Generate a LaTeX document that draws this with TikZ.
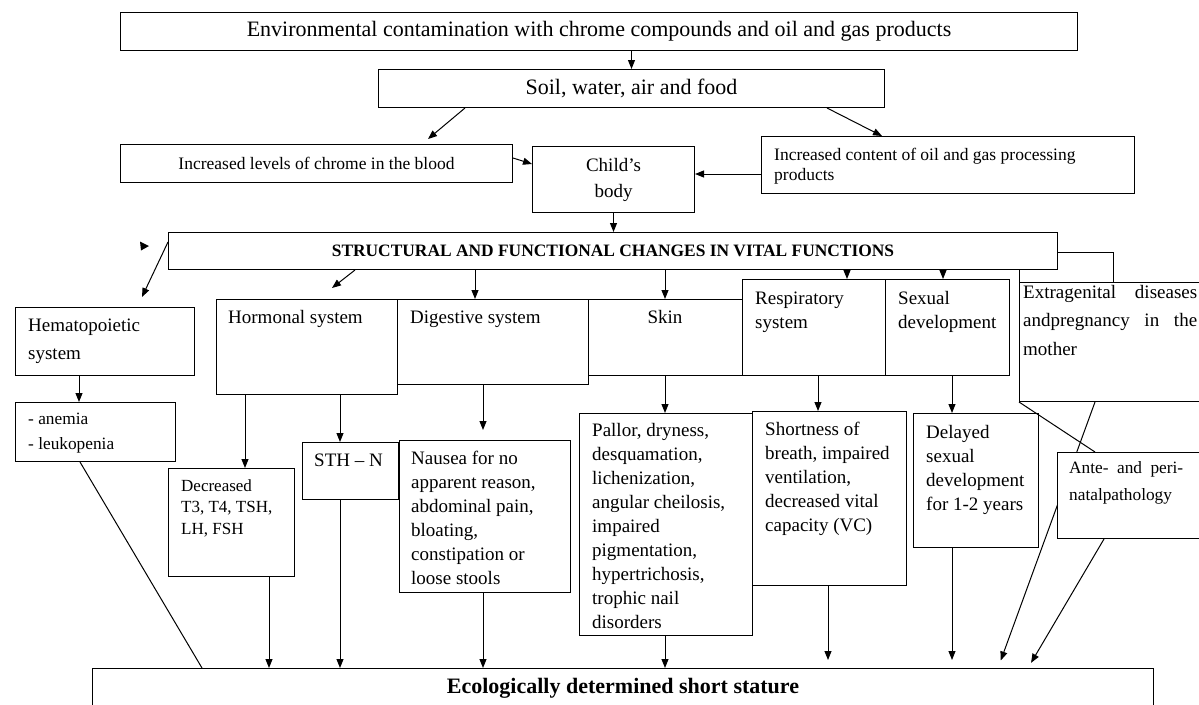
\documentclass[tikz,border=0pt]{standalone}
\usepackage{fontspec}
\setmainfont{Liberation Serif}
\usetikzlibrary{arrows.meta}
\tikzset{
  box/.style={draw, line width=1pt, fill=white, inner sep=0pt, anchor=north west},
  lbl/.style={inner sep=0pt, anchor=north west, align=left},
  arr/.style={line width=1pt, -{Triangle[length=9pt,width=7pt]}},
  ln/.style={line width=1pt},
}
\begin{document}
\begin{tikzpicture}[x=1pt, y=-1pt]
  \useasboundingbox (0,0) rectangle (1199,704);
  \clip (0,0) rectangle (1199,704);
  % ── sources ──
  \node[box, minimum width=957, minimum height=38, font=\fontsize{22}{26}\selectfont] (env) at (120,12)
    {Environmental contamination with chrome compounds and oil and gas products};
  \node[box, minimum width=506, minimum height=38, font=\fontsize{22}{26}\selectfont] (soil) at (378,69)
    {Soil, water, air and food};
  \node[box, minimum width=392, minimum height=38, font=\fontsize{17.5}{20}\selectfont] (chrome) at (120,144)
    {Increased levels of chrome in the blood};
  \node[box, minimum width=162, minimum height=66, align=center, font=\fontsize{19}{26}\selectfont] (child) at (532,146)
    {Child’s\\body};
  \node[box, minimum width=373, minimum height=57] (oil) at (761,136) {};
  \node[lbl, font=\fontsize{17.5}{20}\selectfont] (oil-t) at (774,146)
    {\strut Increased content of oil and gas processing\\products};
  \node[box, minimum width=889, minimum height=37, font=\fontsize{17.4}{20}\selectfont\bfseries] (struct) at (168,232)
    {STRUCTURAL AND FUNCTIONAL CHANGES IN VITAL FUNCTIONS};
  % ── systems ──
  \node[box, minimum width=179, minimum height=68] (hemato) at (15,307) {};
  \node[box, minimum width=181, minimum height=95] (hormonal) at (216,299) {};
  \node[box, minimum width=191, minimum height=85] (digestive) at (397,299) {};
  \node[box, minimum width=154, minimum height=76] (skin) at (588,299) {};
  \node[box, minimum width=143, minimum height=96] (resp) at (742,279) {};
  \node[box, minimum width=124, minimum height=96] (sexual) at (885,279) {};
  \node[box, minimum width=191, minimum height=119] (extragen) at (1019,282) {};
  \node[lbl, font=\fontsize{19}{28}\selectfont] (hemato-t) at (28,311.4) {\strut Hematopoietic\\system};
  \node[lbl, font=\fontsize{19}{24}\selectfont] (hormonal-t) at (228,306.2) {\strut Hormonal system};
  \node[lbl, font=\fontsize{19}{24}\selectfont] (digestive-t) at (410,306.2) {\strut Digestive system};
  \node[inner sep=0pt, anchor=base, font=\fontsize{19}{24}\selectfont] (skin-t) at (665,323) {Skin};
  \node[lbl, font=\fontsize{19}{24}\selectfont] (resp-t) at (755,287.2) {\strut Respiratory\\system};
  \node[lbl, font=\fontsize{19}{24}\selectfont] (sexual-t) at (898,287.2) {\strut Sexual\\development};
  \node[lbl, text width=174, align=justify, font=\fontsize{19}{28.5}\selectfont] (extragen-t) at (1023,278)
    {\noindent\strut Extragenital diseases\linebreak andpregnancy in the\linebreak mother};
  % ── signs ──
  \node[box, minimum width=160, minimum height=59] (anemia) at (15,402) {};
  \node[box, minimum width=126, minimum height=108] (decreased) at (168,468) {};
  \node[box, minimum width=96, minimum height=57] (sth) at (302,442) {};
  \node[box, minimum width=171, minimum height=152] (nausea) at (399,440) {};
  \node[box, minimum width=173, minimum height=222] (pallor) at (579,413) {};
  \node[box, minimum width=154, minimum height=174] (shortness) at (752,411) {};
  \node[box, minimum width=125, minimum height=134] (delayed) at (913,413) {};
  \node[lbl, font=\fontsize{17.3}{25}\selectfont] (anemia-t) at (28,406.5) {\strut - anemia\\- leukopenia};
  \node[lbl, font=\fontsize{17}{21.5}\selectfont] (decreased-t) at (181,476) {\strut Decreased\\T3, T4, TSH,\\LH, FSH};
  \node[inner sep=0pt, anchor=base west, font=\fontsize{19}{24}\selectfont] (sth-t) at (314,466) {STH \textendash{} N};
  \node[lbl, font=\fontsize{19}{24}\selectfont] (nausea-t) at (411,447.2)
    {\strut Nausea for no\\apparent reason,\\abdominal pain,\\bloating,\\constipation or\\loose stools};
  \node[lbl, font=\fontsize{19}{24}\selectfont] (pallor-t) at (592,419.2)
    {\strut Pallor, dryness,\\desquamation,\\lichenization,\\angular cheilosis,\\impaired\\pigmentation,\\hypertrichosis,\\trophic nail\\disorders};
  \node[lbl, font=\fontsize{19}{24}\selectfont] (shortness-t) at (765,418.2)
    {\strut Shortness of\\breath, impaired\\ventilation,\\decreased vital\\capacity (VC)};
  \node[lbl, font=\fontsize{19}{24}\selectfont] (delayed-t) at (926,421.2)
    {\strut Delayed\\sexual\\development\\for 1-2 years};
  % ── outcome ──
  \node[box, minimum width=1061, minimum height=40, font=\fontsize{22}{26}\selectfont\bfseries] (bottom) at (92,668)
    {Ecologically determined short stature};
  % long arrow runs behind the ante box
  \draw[arr, shorten >=8pt] (extragen.south -| 1095,0) -- (bottom.north -| 998,0);
  \node[box, minimum width=153, minimum height=86] (ante) at (1057,452) {};
  \node[lbl, text width=114, align=justify, font=\fontsize{17.3}{27}\selectfont] (ante-t) at (1069,454.1)
    {\noindent\strut Ante- and peri-\linebreak natalpathology};
  % ── free ends ──
  \coordinate (chrome-in) at (428,139);
  \coordinate (hemato-in) at (142,297);
  \coordinate (hormonal-in) at (332,288);
  % ── connectors ──
  \draw[arr] (soil.north |- env.south) -- (soil.north);
  \draw[arr] (soil.south -| 465,0) -- (chrome-in);
  \draw[arr] (soil.south -| 827,0) -- (oil.north west -| 882,0);
  \draw[arr] (chrome.east |- 0,158) -- (child.west |- 0,164);
  \draw[arr] (oil.west |- 0,174) -- (child.east |- 0,174);
  \draw[arr] (child.south) -- (child.south |- struct.north);
  \draw[arr] (struct.west |- 0,242) -- (hemato-in);
  \draw[arr] (struct.south -| 355,0) -- (hormonal-in);
  \foreach \dst/\x in {digestive/475, skin/665, resp/847, sexual/943}
    \draw[arr] (struct.south -| \x,0) -- (\dst.north -| \x,0);
  \draw[ln] (struct.east |- 0,252) -| (extragen.north -| 1113,0);
  \draw[ln] (extragen.north west) -- (extragen.north west |- struct.south);
  \fill (149,246) -- (140,241.5) -- (141,250.5) -- cycle;
  \foreach \src/\dst/\x in {hemato/anemia/79, hormonal/decreased/245, hormonal/sth/340,
                            skin/pallor/665, resp/shortness/818, sexual/delayed/952}
    \draw[arr] (\src.south -| \x,0) -- (\dst.north -| \x,0);
  \draw[arr, shorten >=10pt] (digestive.south -| 483,0) -- (nausea.north -| 483,0);
  \foreach \src/\x in {decreased/269, sth/340, nausea/483, pallor/665}
    \draw[arr] (\src.south -| \x,0) -- (bottom.north -| \x,0);
  \foreach \src/\x in {shortness/828, delayed/952}
    \draw[arr, shorten >=8pt] (\src.south -| \x,0) -- (bottom.north -| \x,0);
  \draw[ln] (anemia.south -| 80,0) -- (bottom.north -| 202,0);
  \draw[ln] (extragen.south west) -- (ante.north west -| 1095,0);
  \draw[arr, shorten >=6pt] (ante.south -| 1104,0) -- (bottom.north -| 1028,0);
\end{tikzpicture}
\end{document}
